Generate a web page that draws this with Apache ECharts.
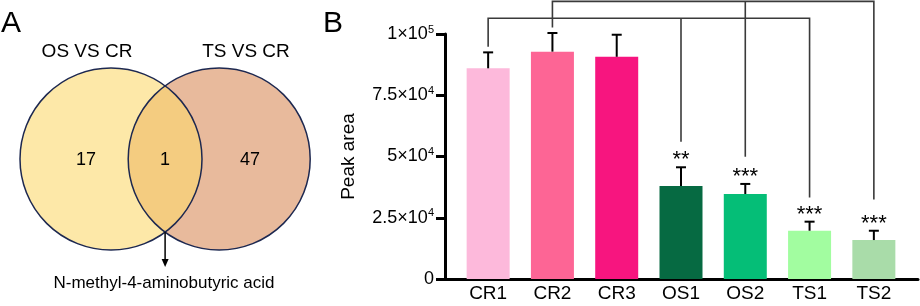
<!DOCTYPE html>
<html><head><meta charset="utf-8">
<script src="https://cdn.jsdelivr.net/npm/echarts@6/dist/echarts.min.js"></script>
<style>html,body{margin:0;padding:0;background:#fff}#c{width:920px;height:306px}</style>
</head><body><div id="c"></div>
<script>
// ---------- data ----------
const categories = ['CR1','CR2','CR3','OS1','OS2','TS1','TS2'];
const peakArea = [86000, 92800, 90700, 38000, 34700, 19700, 15900];
const peakAreaErr = [6500, 7600, 9000, 7600, 4100, 3700, 3800];
const significance = ['', '', '', '**', '***', '***', '***'];
const yTickValues = [0, 25000, 50000, 75000, 100000];
const yTickLabels = ['0','2.5×10^4','5×10^4','7.5×10^4','1×10^5'];
const bracketFrom = [0, 1];
const bracketTo = [[3, 5], [4, 6]];
const bracketLevel = [106400, 113300];
const bracketFromEnd = [94800, 102700];
const bracketToEnd = [[56000, 33300], [49900, 32500]];
const vennSetNames = ['OS VS CR', 'TS VS CR'];
const vennCounts = [17, 1, 47]; // OS only, shared, TS only
const vennSharedName = 'N-methyl-4-aminobutyric acid';
const panelLabels = ['A', 'B'];

// ---------- styles ----------
const FONT = '"Liberation Sans", Arial, sans-serif';
const barColors = ['#FDB9DB','#FD6595','#F7157F','#066A42','#05BE77','#A2FDA0','#A9DCA9'];
const VENN = {cx1: 111, cx2: 219.2, cy: 159, r: 91, fill1: '#FDE8A8', fill2: '#E8BA9C', fillX: '#F4CC80', stroke: '#1d2850'};

const chart = echarts.init(document.getElementById('c'), null, {renderer: 'canvas'});

function vennRender(params, api) {
  const {cx1, cx2, cy, r} = VENN;
  const mx = (cx1 + cx2) / 2;
  const h = Math.sqrt(r * r - Math.pow((cx2 - cx1) / 2, 2));
  const a = Math.asin(h / r);
  const pts = [];
  const N = 80;
  for (let i = 0; i <= N; i++) { const t = -a + 2 * a * i / N; pts.push([cx1 + r * Math.cos(t), cy + r * Math.sin(t)]); }
  for (let i = 0; i <= N; i++) { const t = Math.PI - a + 2 * a * i / N; pts.push([cx2 + r * Math.cos(t), cy + r * Math.sin(t)]); }
  const txt = (x, y, s, size) => ({type: 'text', x, y, style: {text: s, fontSize: size, fontFamily: FONT, fill: '#000', align: 'center', verticalAlign: 'middle'}});
  const arrowEnd = 267;
  return {type: 'group', children: [
    {type: 'circle', shape: {cx: cx1, cy, r}, style: {fill: VENN.fill1}},
    {type: 'circle', shape: {cx: cx2, cy, r}, style: {fill: VENN.fill2}},
    {type: 'polygon', shape: {points: pts}, style: {fill: VENN.fillX}},
    {type: 'circle', shape: {cx: cx1, cy, r}, style: {fill: 'none', stroke: VENN.stroke, lineWidth: 1.5}},
    {type: 'circle', shape: {cx: cx2, cy, r}, style: {fill: 'none', stroke: VENN.stroke, lineWidth: 1.5}},
    {type: 'line', shape: {x1: mx, y1: cy + h, x2: mx, y2: arrowEnd - 6}, style: {stroke: '#000', lineWidth: 1.5}},
    {type: 'polygon', shape: {points: [[mx - 3.5, arrowEnd - 8], [mx + 3.5, arrowEnd - 8], [mx, arrowEnd]]}, style: {fill: '#000'}},
    txt(87, 52, vennSetNames[0], 19),
    txt(246, 52, vennSetNames[1], 19),
    txt(86, 160, String(vennCounts[0]), 18),
    txt(mx, 160, String(vennCounts[1]), 18),
    txt(250, 160, String(vennCounts[2]), 18),
    txt(164, 283, vennSharedName, 17)
  ]};
}

function errRender(params, api) {
  const i = api.value(0);
  const p0 = api.coord([i, api.value(1)]);
  const p1 = api.coord([i, api.value(2)]);
  const children = [
    {type: 'line', shape: {x1: p0[0], y1: p0[1], x2: p1[0], y2: p1[1]}, style: {stroke: '#000', lineWidth: 2}},
    {type: 'line', shape: {x1: p1[0] - 5, y1: p1[1], x2: p1[0] + 5, y2: p1[1]}, style: {stroke: '#000', lineWidth: 2}}
  ];
  const s = significance[params.dataIndex];
  if (s) children.push({type: 'text', x: p1[0], y: p1[1] - 7, style: {text: s, fontSize: 22, fontFamily: FONT, fill: '#000', align: 'center', verticalAlign: 'middle'}});
  return {type: 'group', children};
}

function bracketRender(params, api) {
  const k = params.dataIndex;
  const f = bracketFrom[k], lvl = bracketLevel[k];
  const targets = bracketTo[k], ends = bracketToEnd[k];
  const last = targets.length - 1;
  const pts = [api.coord([f, bracketFromEnd[k]]), api.coord([f, lvl]), api.coord([targets[last], lvl]), api.coord([targets[last], ends[last]])];
  const children = [{type: 'polyline', shape: {points: pts}, style: {stroke: '#3a3a3a', lineWidth: 1.6, fill: 'none'}}];
  for (let j = 0; j < last; j++) {
    const a = api.coord([targets[j], lvl]), b = api.coord([targets[j], ends[j]]);
    children.push({type: 'line', shape: {x1: a[0], y1: a[1], x2: b[0], y2: b[1]}, style: {stroke: '#3a3a3a', lineWidth: 1.6}});
  }
  return {type: 'group', children};
}

const option = {
  animation: false,
  textStyle: {fontFamily: FONT},
  graphic: [
    {type: 'text', left: 1, top: 9, style: {text: panelLabels[0], fontSize: 30, fontFamily: FONT, fill: '#000'}},
    {type: 'text', left: 323, top: 9, style: {text: panelLabels[1], fontSize: 30, fontFamily: FONT, fill: '#000'}}
  ],
  grid: [
    {left: 456, right: 14, top: 34, bottom: 27},
    {left: 445, right: 2, top: 34, bottom: 27}
  ],
  xAxis: [
    {type: 'category', gridIndex: 0, data: categories, axisLine: {show: false}, axisTick: {show: false},
     axisLabel: {fontSize: 19, color: '#000', margin: 5, fontFamily: FONT}},
    {type: 'category', gridIndex: 1, data: categories, axisLine: {show: true, lineStyle: {color: '#000', width: 3}},
     axisTick: {show: false}, axisLabel: {show: false}}
  ],
  yAxis: [
    {type: 'value', gridIndex: 0, min: 0, max: 100000, interval: 25000, show: false},
    {type: 'value', gridIndex: 1, min: 0, max: 100000, interval: 25000,
     name: 'Peak area', nameLocation: 'middle', nameGap: 87, nameRotate: 90,
     nameTextStyle: {fontSize: 19, color: '#000', fontFamily: FONT},
     axisLine: {show: true, lineStyle: {color: '#000', width: 3}},
     axisTick: {show: true, length: 9, lineStyle: {color: '#000', width: 3}},
     splitLine: {show: false},
     axisLabel: {margin: 11, color: '#000',
       formatter: v => {
         const i = yTickValues.indexOf(v);
         const s = i >= 0 ? yTickLabels[i] : '';
         const m = s.split('^');
         return m.length > 1 ? '{b|' + m[0] + '}{s|' + m[1] + '}' : '{b|' + m[0] + '}';
       },
       rich: {
         b: {fontSize: 18, fontFamily: FONT, color: '#000', lineHeight: 20},
         s: {fontSize: 11, fontFamily: FONT, color: '#000', lineHeight: 20, verticalAlign: 'top'}
       }}
    }
  ],
  series: [
    {type: 'custom', coordinateSystem: 'none', data: [[0]], renderItem: vennRender, silent: true},
    {type: 'bar', xAxisIndex: 0, yAxisIndex: 0, barWidth: 43,
     data: peakArea.map((v, i) => ({value: v, itemStyle: {color: barColors[i]}}))},
    {type: 'custom', xAxisIndex: 0, yAxisIndex: 0, renderItem: errRender, z: 5,
     encode: {x: 0, y: [1, 2]},
     data: peakArea.map((v, i) => [i, v, v + peakAreaErr[i]])},
    {type: 'custom', xAxisIndex: 0, yAxisIndex: 0, renderItem: bracketRender, z: 4, clip: false,
     encode: {x: 0, y: 1},
     data: bracketFrom.map((f, k) => [f, bracketLevel[k]])}
  ]
};
chart.setOption(option);
</script>
</body></html>
